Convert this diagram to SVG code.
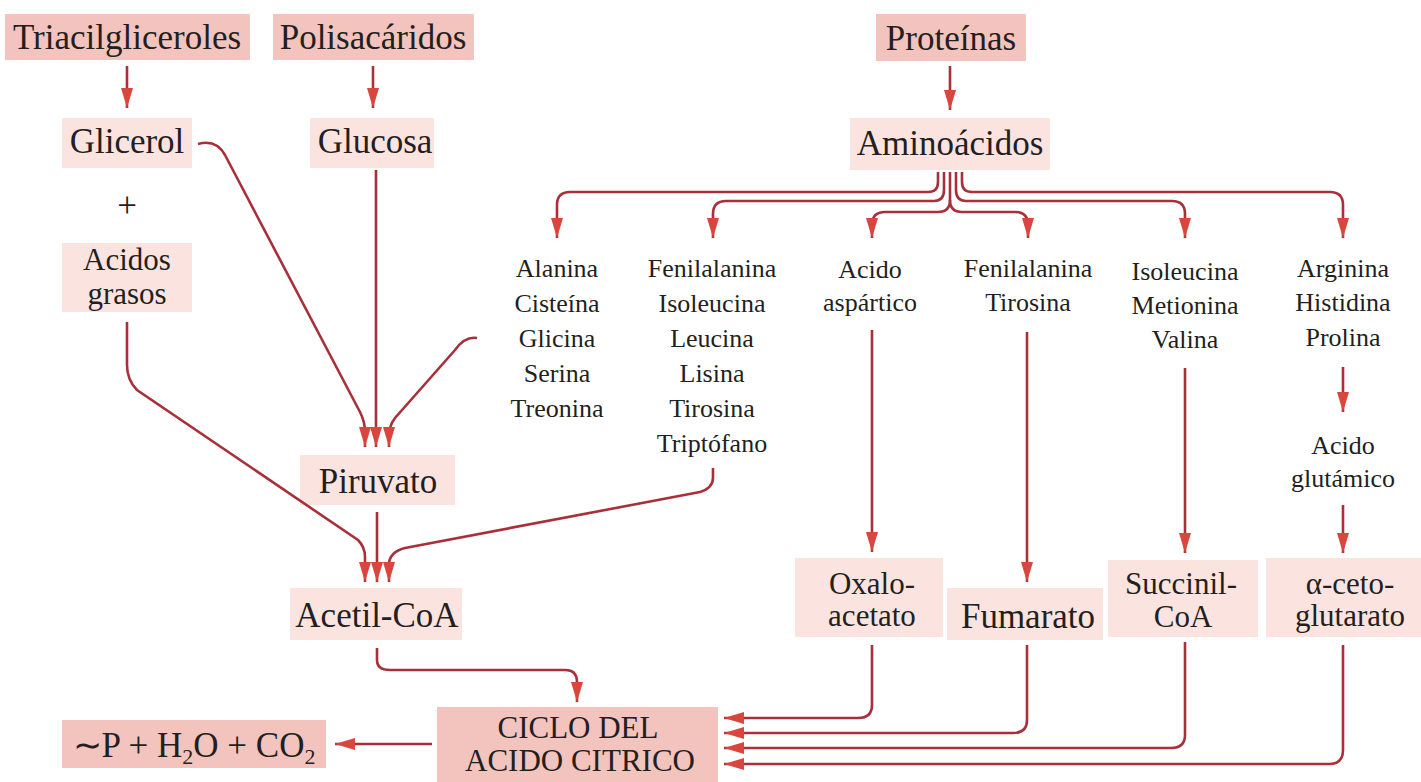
<svg xmlns="http://www.w3.org/2000/svg" width="1421" height="782" viewBox="0 0 1421 782">
<style>
.strong{fill:#f3c3be}
.soft{fill:#fbe4e0}
.t{font-family:"Liberation Serif","Times New Roman",serif;font-size:35px;fill:#231f20;text-anchor:middle}
.t2{font-family:"Liberation Serif","Times New Roman",serif;font-size:31px;fill:#231f20;text-anchor:middle}
.s{font-family:"Liberation Serif","Times New Roman",serif;font-size:26px;fill:#231f20;text-anchor:middle}
.c{fill:none;stroke:#a8303a;stroke-width:2.6}
</style>
<defs>
<marker id="ah" viewBox="0 0 20 12" refX="20" refY="6" markerWidth="20" markerHeight="12" markerUnits="userSpaceOnUse" orient="auto">
<path d="M0,0 L20,6 L0,12 z" fill="#d8463d"/>
</marker>
</defs>
<rect width="1421" height="782" fill="#ffffff"/>

<g id="triacilgliceroles"><rect class="strong" x="5" y="14" width="245" height="46"/><text class="t" x="127" y="49">Triacilgliceroles</text></g>
<g id="polisacaridos"><rect class="strong" x="273" y="14" width="201" height="46"/><text class="t" x="373" y="49">Polisacáridos</text></g>
<g id="proteinas"><rect class="strong" x="876" y="14" width="150" height="47"/><text class="t" x="951" y="50">Proteínas</text></g>
<g id="glicerol"><rect class="soft" x="62" y="118" width="130" height="50"/><text class="t" x="127" y="153">Glicerol</text></g>
<g id="plus"><text class="t" x="127" y="217">+</text></g>
<g id="glucosa"><rect class="soft" x="310" y="118" width="124" height="50"/><text class="t" x="375" y="153">Glucosa</text></g>
<g id="aminoacidos"><rect class="soft" x="850" y="118" width="200" height="52"/><text class="t" x="950" y="155">Aminoácidos</text></g>
<g id="acidos-grasos"><rect class="soft" x="62" y="243" width="130" height="69"/><text class="t2" x="127" y="270">Acidos</text><text class="t2" x="127" y="304">grasos</text></g>
<g id="piruvato"><rect class="soft" x="300" y="455" width="155" height="50"/><text class="t" x="378" y="493">Piruvato</text></g>
<g id="acetil-coa"><rect class="soft" x="290" y="588" width="172" height="52"/><text class="t" x="377" y="627">Acetil-CoA</text></g>

<g id="grupo-alanina"><text class="s" x="557" y="277">Alanina</text><text class="s" x="557" y="312">Cisteína</text><text class="s" x="557" y="347">Glicina</text><text class="s" x="557" y="382">Serina</text><text class="s" x="557" y="417">Treonina</text></g>
<g id="grupo-fenilalanina"><text class="s" x="712" y="277">Fenilalanina</text><text class="s" x="712" y="312">Isoleucina</text><text class="s" x="712" y="347">Leucina</text><text class="s" x="712" y="382">Lisina</text><text class="s" x="712" y="417">Tirosina</text><text class="s" x="712" y="452">Triptófano</text></g>
<g id="acido-aspartico"><text class="s" x="870" y="278">Acido</text><text class="s" x="870" y="311">aspártico</text></g>
<g id="grupo-fenilalanina-tirosina"><text class="s" x="1028" y="277">Fenilalanina</text><text class="s" x="1028" y="311">Tirosina</text></g>
<g id="grupo-isoleucina"><text class="s" x="1185" y="280">Isoleucina</text><text class="s" x="1185" y="314">Metionina</text><text class="s" x="1185" y="348">Valina</text></g>
<g id="grupo-arginina"><text class="s" x="1343" y="277">Arginina</text><text class="s" x="1343" y="311">Histidina</text><text class="s" x="1343" y="346">Prolina</text></g>
<g id="acido-glutamico"><text class="s" x="1343" y="454">Acido</text><text class="s" x="1343" y="487">glutámico</text></g>

<g id="oxaloacetato"><rect class="soft" x="795" y="558" width="148" height="79"/><text class="t2" x="872" y="594">Oxalo-</text><text class="t2" x="872" y="626">acetato</text></g>
<g id="fumarato"><rect class="soft" x="947" y="588" width="156" height="52"/><text class="t" x="1028" y="628">Fumarato</text></g>
<g id="succinil-coa"><rect class="soft" x="1108" y="560" width="150" height="77"/><text class="t2" x="1181" y="594">Succinil-</text><text class="t2" x="1183" y="627">CoA</text></g>
<g id="alfa-cetoglutarato"><rect class="soft" x="1266" y="558" width="155" height="79"/><text class="t2" x="1350" y="594">α-ceto-</text><text class="t2" x="1350" y="626">glutarato</text></g>
<g id="ciclo"><rect class="strong" x="437" y="707" width="281" height="75"/><text class="t2" x="578" y="738">CICLO DEL</text><text class="t2" x="580" y="771">ACIDO CITRICO</text></g>
<g id="productos"><rect class="strong" x="62" y="720" width="264" height="48"/><text class="t" x="194" y="757">∼P + H<tspan font-size="22" dy="7">2</tspan><tspan dy="-7">O + CO</tspan><tspan font-size="22" dy="7">2</tspan></text></g>

<g id="connectors" class="c">
<path class="c" d="M127,66 V108" marker-end="url(#ah)"/>
<path class="c" d="M373,66 V108" marker-end="url(#ah)"/>
<path class="c" d="M950,66 V110" marker-end="url(#ah)"/>
<path class="c" d="M938,172 V182 Q938,192 928,192 H570 Q557,192 557,205 V238" marker-end="url(#ah)"/>
<path class="c" d="M944,172 V190 Q944,201 934,201 H726 Q713,201 713,214 V238" marker-end="url(#ah)"/>
<path class="c" d="M950,172 V200 Q950,212 938,212 H885 Q872,212 872,225 V238" marker-end="url(#ah)"/>
<path class="c" d="M950,200 Q950,212 962,212 H1015 Q1028,212 1028,225 V238" marker-end="url(#ah)"/>
<path class="c" d="M956,172 V190 Q956,201 966,201 H1172 Q1185,201 1185,214 V238" marker-end="url(#ah)"/>
<path class="c" d="M962,172 V182 Q962,192 972,192 H1330 Q1343,192 1343,205 V238" marker-end="url(#ah)"/>
<path class="c" d="M198,144 C212,140 220,146 225,155 L360,412 Q365,422 365,432 V447" marker-end="url(#ah)"/>
<path class="c" d="M376,170 V447" marker-end="url(#ah)"/>
<path class="c" d="M477,338 Q465,336 455,350 L395,418 Q389,426 389,436 V447" marker-end="url(#ah)"/>
<path class="c" d="M127,322 V365 Q127,380 137,390 L358,540 Q365,547 365,557 V582" marker-end="url(#ah)"/>
<path class="c" d="M377,512 V582" marker-end="url(#ah)"/>
<path class="c" d="M713,468 V478 Q713,488 700,492 L405,548 Q389,552 389,565 V582" marker-end="url(#ah)"/>
<path class="c" d="M377,648 V660 Q377,670 390,670 H565 Q577,670 577,682 V702" marker-end="url(#ah)"/>
<path class="c" d="M432,744 H335" marker-end="url(#ah)"/>
<path class="c" d="M872,330 V552" marker-end="url(#ah)"/>
<path class="c" d="M1027,332 V582" marker-end="url(#ah)"/>
<path class="c" d="M1185,368 V553" marker-end="url(#ah)"/>
<path class="c" d="M1343,367 V412" marker-end="url(#ah)"/>
<path class="c" d="M1343,505 V553" marker-end="url(#ah)"/>
<path class="c" d="M872,645 V705 Q872,718 858,718 H724" marker-end="url(#ah)"/>
<path class="c" d="M1027,645 V720 Q1027,733 1013,733 H724" marker-end="url(#ah)"/>
<path class="c" d="M1185,642 V735 Q1185,748 1171,748 H724" marker-end="url(#ah)"/>
<path class="c" d="M1343,645 V750 Q1343,764 1329,764 H724" marker-end="url(#ah)"/>
</g>
</svg>
